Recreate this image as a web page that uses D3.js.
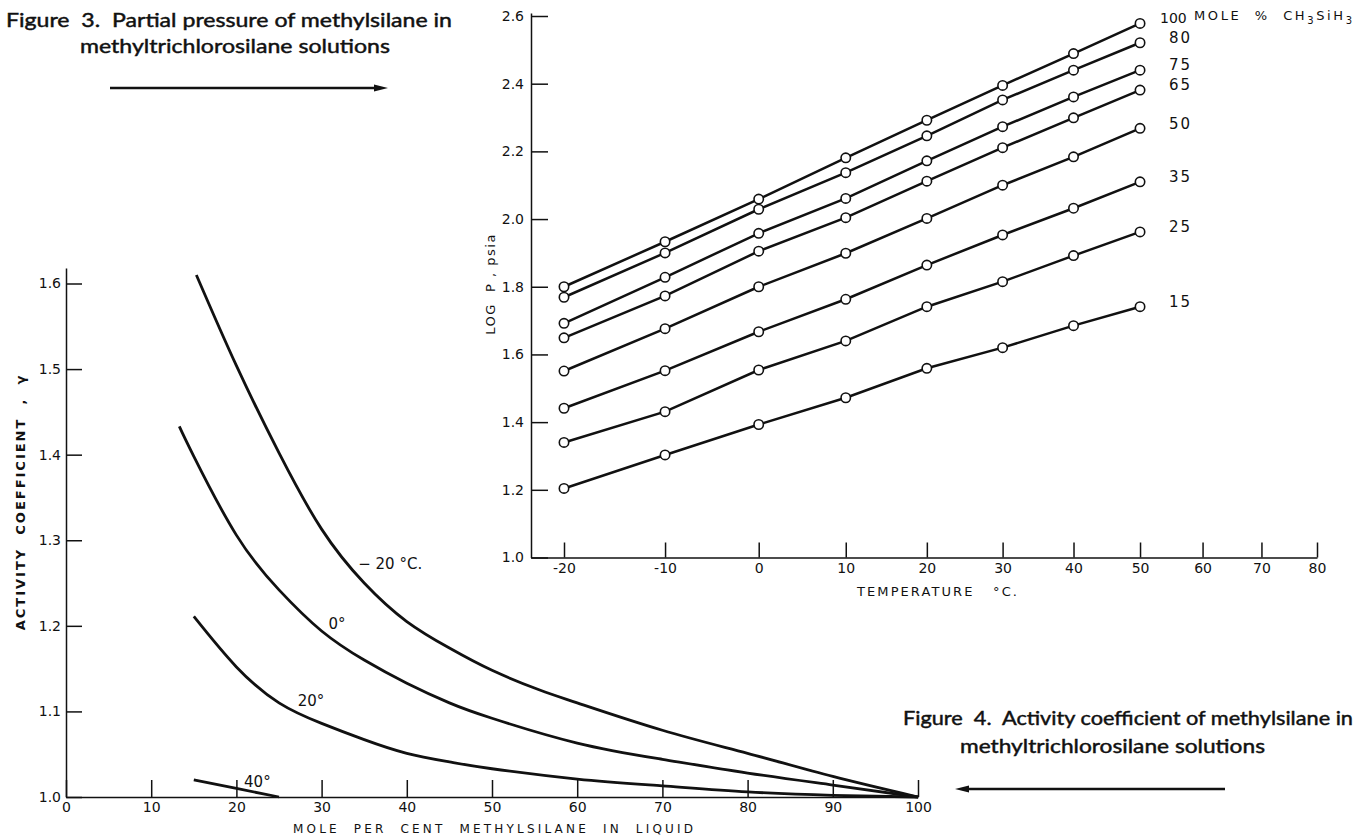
<!DOCTYPE html>
<html>
<head>
<meta charset="utf-8">
<script src="https://cdn.jsdelivr.net/npm/d3@7"></script>
<style>
  body { margin: 0; background: #fff; }
  svg { display: block; background: #fff; }
  .caption { font-family: "Lato", "DejaVu Sans", sans-serif; font-size: 19px; font-weight: normal; fill: #111; stroke: #111; stroke-width: 0.45; white-space: pre; }
  .axis text { font-family: "DejaVu Sans", sans-serif; font-size: 14px; fill: #111; }
  .axis path, .axis line { stroke: #111; stroke-width: 1.5; }
  .label { font-family: "DejaVu Sans", sans-serif; fill: #111; white-space: pre; }
</style>
</head>
<body>
<svg id="chart" width="1355" height="839"></svg>
<script>
// ---- Figure 3: log P vs temperature (x is linear in 1/T) ----
const temps = [-20, -10, 0, 10, 20, 30, 40, 50];
const tempTicks = [-20, -10, 0, 10, 20, 30, 40, 50, 60, 70, 80];
const logPTicks = [1.0, 1.2, 1.4, 1.6, 1.8, 2.0, 2.2, 2.4, 2.6];
const moleLabels = ["100", "80", "75", "65", "50", "35", "25", "15"];
const logP100 = [1.800, 1.933, 2.059, 2.181, 2.292, 2.395, 2.489, 2.578];
const logP80 = [1.769, 1.900, 2.029, 2.137, 2.246, 2.352, 2.440, 2.521];
const logP75 = [1.692, 1.828, 1.958, 2.061, 2.172, 2.273, 2.361, 2.440];
const logP65 = [1.649, 1.773, 1.905, 2.004, 2.112, 2.211, 2.299, 2.381];
const logP50 = [1.551, 1.676, 1.800, 1.899, 2.002, 2.100, 2.184, 2.268];
const logP35 = [1.441, 1.552, 1.667, 1.763, 1.864, 1.953, 2.032, 2.110];
const logP25 = [1.340, 1.431, 1.554, 1.640, 1.741, 1.815, 1.892, 1.962];
const logP15 = [1.204, 1.303, 1.393, 1.472, 1.559, 1.620, 1.685, 1.741];

// ---- Figure 4: activity coefficient vs mole per cent ----
const moleTicks = [0, 10, 20, 30, 40, 50, 60, 70, 80, 90, 100];
const gammaTicks = [1.0, 1.1, 1.2, 1.3, 1.4, 1.5, 1.6];
const moleM20 = [15.3, 20, 25, 30, 35, 40, 45, 50, 55.6, 60, 70, 80, 90, 100];
const gammaM20 = [1.610, 1.504, 1.402, 1.313, 1.250, 1.205, 1.174, 1.148, 1.125, 1.110, 1.078, 1.051, 1.024, 1.0];
const mole0 = [13.3, 15, 20, 25, 30, 35, 40, 45, 50, 60, 70, 80, 90, 100];
const gamma0 = [1.433, 1.398, 1.306, 1.242, 1.194, 1.160, 1.133, 1.110, 1.092, 1.063, 1.044, 1.028, 1.014, 1.0];
const mole20 = [15, 20, 25, 30, 35, 40, 45, 50, 60, 70, 80, 90, 100];
const gamma20 = [1.211, 1.152, 1.110, 1.086, 1.067, 1.051, 1.041, 1.033, 1.021, 1.013, 1.006, 1.002, 1.0];
const mole40 = [15, 20, 25];
const gamma40 = [1.020, 1.010, 1.0];
const curveNames = ["\u2212 20 \u00B0C.", "0\u00B0", "20\u00B0", "40\u00B0"];

const svg = d3.select("#chart");
const ink = "#111";

// ================= Figure 3 =================
const invT = t => 1 / (t + 273.15);
const xT0 = d3.scaleLinear().domain([invT(-20), invT(80)]).range([564, 1317]);
const xT = xT0.copy().domain([xT0.invert(531), invT(80)]).range([531, 1317]);
const yP = d3.scaleLinear().domain([1.0, 2.6]).range([557.5, 16]);
const yPaxis = yP.copy().domain([1.0, yP.invert(13)]).range([557.5, 13]);

svg.append("g")
  .attr("class", "axis")
  .attr("transform", "translate(0,557.5)")
  .call(d3.axisBottom(xT)
    .tickValues(tempTicks.map(invT))
    .tickFormat(d => Math.round(1 / d - 273.15))
    .tickSizeInner(-15).tickSizeOuter(0).tickPadding(6));

svg.append("g")
  .attr("class", "axis")
  .attr("transform", "translate(531,0)")
  .call(d3.axisLeft(yPaxis)
    .tickValues(logPTicks)
    .tickFormat(d3.format(".1f"))
    .tickSizeInner(-17).tickSizeOuter(0).tickPadding(7));

const series3 = [logP100, logP80, logP75, logP65, logP50, logP35, logP25, logP15];
const line3 = d3.line()
  .x((d, i) => xT(invT(temps[i])))
  .y(d => yP(d));

svg.append("g").selectAll("path")
  .data(series3)
  .join("path")
  .attr("d", line3)
  .attr("fill", "none")
  .attr("stroke", ink)
  .attr("stroke-width", 2.5);

svg.append("g").selectAll("g")
  .data(series3)
  .join("g")
  .selectAll("circle")
  .data(d => d)
  .join("circle")
  .attr("cx", (d, i) => xT(invT(temps[i])))
  .attr("cy", d => yP(d))
  .attr("r", 4.7)
  .attr("fill", "#fff")
  .attr("stroke", ink)
  .attr("stroke-width", 1.6);

// series labels at right end
svg.append("g").selectAll("text")
  .data(series3)
  .join("text")
  .attr("class", "label")
  .attr("x", (d, i) => xT(invT(50)) + (i === 0 ? 20 : 29))
  .attr("y", d => yP(d[d.length - 1]) - 5)
  .attr("dy", "0.35em")
  .attr("font-size", (d, i) => i === 0 ? 14 : 15)
  .attr("letter-spacing", (d, i) => i === 0 ? 0 : 2)
  .text((d, i) => moleLabels[i]);

const unitLabel = svg.append("text")
  .attr("class", "label")
  .attr("x", xT(invT(50)) + 54)
  .attr("y", yP(logP100[logP100.length - 1]) - 8)
  .attr("dy", "0.35em")
  .attr("font-size", 13)
  .attr("textLength", 158)
  .attr("lengthAdjust", "spacing");
unitLabel.append("tspan").text("MOLE  %  CH");
unitLabel.append("tspan").attr("font-size", 10).attr("dy", 4).text("3");
unitLabel.append("tspan").attr("dy", -4).text("SiH");
unitLabel.append("tspan").attr("font-size", 10).attr("dy", 4).text("3");

svg.append("text")
  .attr("class", "label")
  .attr("x", 857).attr("y", 596)
  .attr("font-size", 13)
  .attr("textLength", 160)
  .attr("lengthAdjust", "spacing")
  .text("TEMPERATURE   \u00B0C.");

svg.append("text")
  .attr("class", "label")
  .attr("transform", "translate(495,284) rotate(-90)")
  .attr("text-anchor", "middle")
  .attr("font-size", 13)
  .attr("letter-spacing", 1.5)
  .text("LOG  P , psia");

// ================= Figure 4 =================
const xM = d3.scaleLinear().domain([0, 100]).range([66, 918]);
const yG = d3.scaleLinear().domain([1.0, 1.6]).range([797, 283.5]);
const yGaxis = yG.copy().domain([1.0, yG.invert(268)]).range([797, 268]);

svg.append("g")
  .attr("class", "axis")
  .attr("transform", "translate(0,797)")
  .call(d3.axisBottom(xM)
    .tickValues(moleTicks)
    .tickSizeInner(-17).tickSizeOuter(0).tickPadding(5));

svg.append("g")
  .attr("class", "axis")
  .attr("transform", "translate(66,0)")
  .call(d3.axisLeft(yGaxis)
    .tickValues(gammaTicks)
    .tickFormat(d3.format(".1f"))
    .tickSizeInner(-16).tickSizeOuter(0).tickPadding(5));

const curves4 = [
  [moleM20, gammaM20],
  [mole0, gamma0],
  [mole20, gamma20],
  [mole40, gamma40]
];
const line4 = d3.line().curve(d3.curveNatural);

svg.append("g").selectAll("path")
  .data(curves4)
  .join("path")
  .attr("d", c => line4(c[0].map((m, i) => [xM(m), yG(c[1][i])])))
  .attr("fill", "none")
  .attr("stroke", ink)
  .attr("stroke-width", 2.8);

// curve labels (placed beside the curves in data units)
const labelMole = [34.3, 30.8, 27.2, 20.9];
const labelGamma = [1.273, 1.203, 1.113, 1.018];
svg.append("g").selectAll("text")
  .data(curveNames)
  .join("text")
  .attr("class", "label")
  .attr("x", (d, i) => xM(labelMole[i]))
  .attr("y", (d, i) => yG(labelGamma[i]))
  .attr("dy", "0.35em")
  .attr("font-size", 15)
  .text(d => d);

svg.append("text")
  .attr("class", "label")
  .attr("x", 293).attr("y", 833)
  .attr("font-size", 12)
  .attr("textLength", 400)
  .attr("lengthAdjust", "spacing")
  .text("MOLE  PER  CENT  METHYLSILANE  IN  LIQUID");

svg.append("text")
  .attr("class", "label")
  .attr("transform", "translate(25,502) rotate(-90)")
  .attr("text-anchor", "middle")
  .attr("font-size", 13)
  .attr("font-weight", "bold")
  .attr("letter-spacing", 2)
  .text("ACTIVITY  COEFFICIENT  ,  \u03B3");

// ================= Captions and arrows =================
function caption(x, y, len, txt) {
  svg.append("text")
    .attr("class", "caption")
    .attr("x", x).attr("y", y)
    .attr("textLength", len)
    .attr("lengthAdjust", "spacingAndGlyphs")
    .text(txt);
}
caption(6, 27, 446, "Figure  3.  Partial pressure of methylsilane in");
caption(80, 53, 310, "methyltrichlorosilane solutions");
caption(903, 725, 450, "Figure  4.  Activity coefficient of methylsilane in");
caption(960, 753, 305, "methyltrichlorosilane solutions");

function arrow(x1, x2, y) {
  const dir = x2 > x1 ? 1 : -1;
  svg.append("line")
    .attr("x1", x1).attr("x2", x2 - dir * 10)
    .attr("y1", y).attr("y2", y)
    .attr("stroke", ink).attr("stroke-width", 2.5);
  svg.append("path")
    .attr("d", `M${x2},${y} L${x2 - dir * 14},${y - 3.5} L${x2 - dir * 14},${y + 3.5} Z`)
    .attr("fill", ink);
}
arrow(110, 388, 88);
arrow(1225, 955, 789);
</script>
</body>
</html>
